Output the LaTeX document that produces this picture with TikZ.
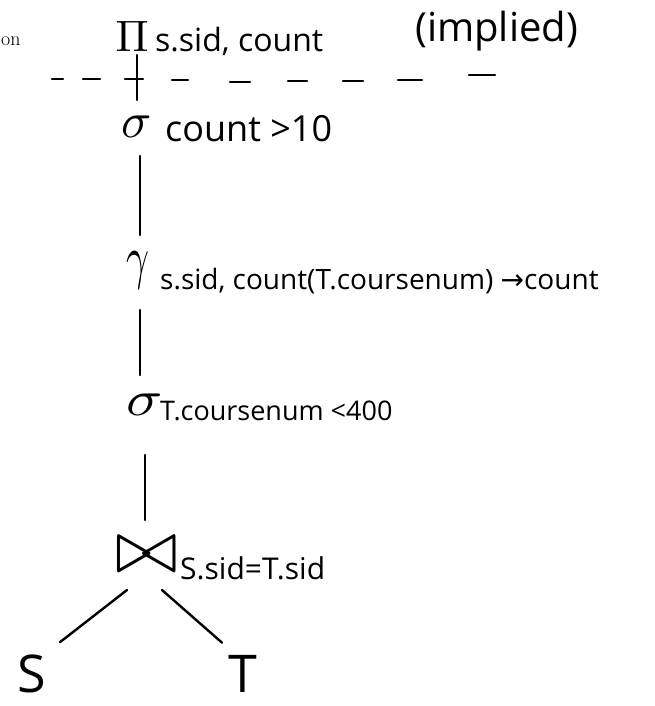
\documentclass[tikz,border=0pt]{standalone}
\usepackage{fontspec}
\newfontfamily\hand{Open Sans}
\newfontfamily\dv{DejaVu Sans}
\usetikzlibrary{calc}
\begin{document}
\begin{tikzpicture}[x=1pt,y=-1pt,
  hw/.style={font={\hand\fontsize{#1}{#1}\selectfont}, inner sep=0pt},
  sym/.style={inner sep=0pt},
  edge/.style={line width=2.4pt, line cap=round},
  dashseg/.style={line width=2.2pt, line cap=round}]
\useasboundingbox (0,0) rectangle (655,706);
% page text fragment
\node[anchor=base west, inner sep=0pt, font=\fontsize{20}{20}\selectfont] (on) at (1,46) {on};
% projection
\node[sym] (pi) at (132,36) {\scalebox{4.4}{$\Pi$}};
\node[hw=32, anchor=base west] (pil) at (155,52) {s.sid, count};
\node[hw=40, anchor=base west] (impl) at (415,42) {(implied)};
% dashed "implied" boundary
\foreach \a/\b/\y in {52/63/79, 83/100/79, 125/143/79, 172/188/80, 230/250/82, 288/307/81, 343/363/81, 398/422/80, 469/495/75}
  \draw[dashseg] (\a,\y) -- (\b,\y);
% selection count>10
\node[sym] (sel1) at (137,127) {\scalebox{5}{$\sigma$}};
\node[hw=36, anchor=base west] (sel1l) at (165,141) {count >10};
% grouping
\node[sym] (gam) at (138,270) {\scalebox{4}[6]{$\gamma$}};
\node[hw=28, anchor=base west] (gaml) at (160,289) {s.sid, count(T.coursenum) {\dv→}count};
% selection coursenum
\node[sym] (sel2) at (145,405) {\scalebox{6}[5]{$\sigma$}};
\node[hw=27, anchor=base west] (sel2l) at (160,420) {T.coursenum <400};
% join
\node[sym] (join) at (147,555) {\scalebox{7.5}[7.5]{$\bowtie$}};
\node[hw=30, anchor=base west] (joinl) at (180,579) {S.sid=T.sid};
% relations
\node[hw=52, anchor=base] (S) at (32,692) {S};
\node[hw=52, anchor=base] (T) at (243,692) {T};
% connectors
\draw[edge] ($(pi)+(5,19)$) -- ($(sel1)+(0,-27)$);
\draw[edge] ($(sel1)+(3,29)$) -- ($(gam)+(2,-35)$);
\draw[edge] ($(gam)+(2,40)$) -- ($(sel2)+(-5,-30)$);
\draw[edge] ($(sel2)+(0,50)$) -- ($(join)+(-2,-35)$);
\draw[edge] ($(join)+(-20,35)$) -- ($(S.north)+(28,-12)$);
\draw[edge] ($(join)+(15,35)$) -- ($(T.north)+(-21,-12)$);
\end{tikzpicture}
\end{document}
